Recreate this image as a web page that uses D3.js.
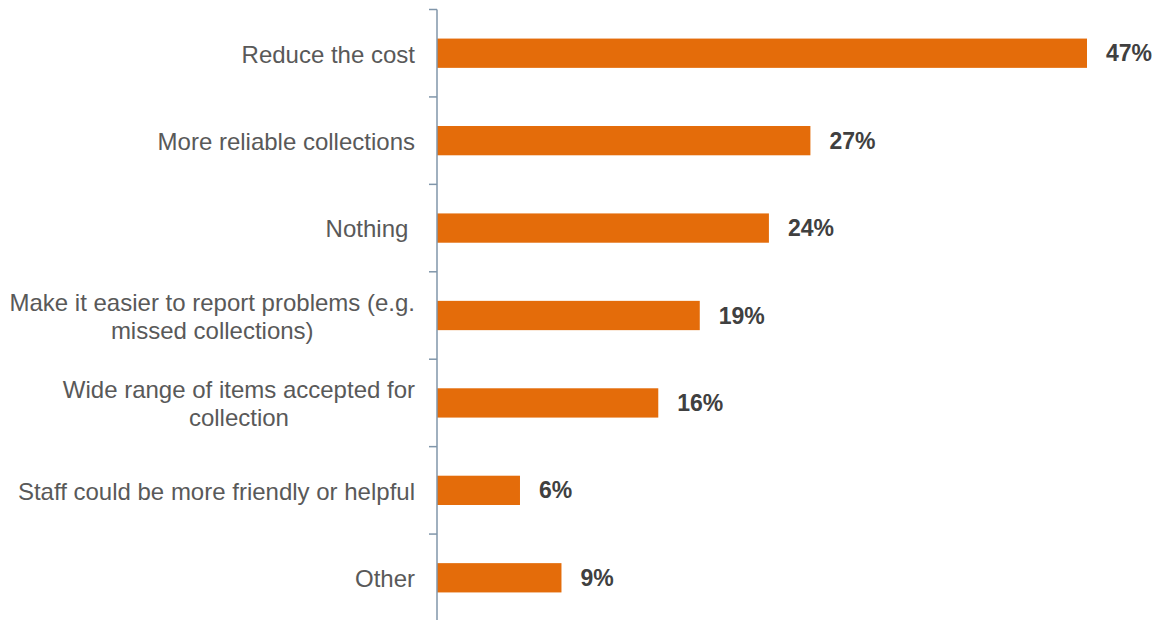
<!DOCTYPE html>
<html>
<head>
<meta charset="utf-8">
<script src="https://cdn.jsdelivr.net/npm/d3@7"></script>
<style>
  html, body { margin: 0; padding: 0; background: #fff; }
  svg { display: block; }
</style>
</head>
<body>
<svg id="chart" width="1159" height="620"></svg>
<script>
const categories = [
  ["Reduce the cost"],
  ["More reliable collections"],
  ["Nothing "],
  ["Make it easier to report problems (e.g.", "missed collections)"],
  ["Wide range of items accepted for", "collection"],
  ["Staff could be more friendly or helpful"],
  ["Other"]
];
const values = [47, 27, 24, 19, 16, 6, 9];
const valueLabels = ["47%", "27%", "24%", "19%", "16%", "6%", "9%"];

const svg = d3.select("#chart");
const font = "'Liberation Sans', Arial, sans-serif";
const axisX = 437;

const y = d3.scaleBand()
  .domain(d3.range(categories.length))
  .range([9.5, 621.5])
  .paddingInner(0.665)
  .paddingOuter(0.3325);

const yTicks = d3.scaleLinear().domain([0, categories.length]).range([9.5, 621.5]);

const x = d3.scaleLinear().domain([0, 50]).range([axisX, axisX + 650 * 50 / 47]);

// bars
svg.append("g").selectAll("rect")
  .data(values)
  .join("rect")
  .attr("x", x(0))
  .attr("y", (d, i) => y(i))
  .attr("width", d => x(d) - x(0))
  .attr("height", y.bandwidth())
  .attr("fill", "#E46C0A");

// value labels
svg.append("g").selectAll("text")
  .data(values)
  .join("text")
  .attr("x", d => x(d) + 19)
  .attr("y", (d, i) => y(i) + y.bandwidth() / 2)
  .attr("dy", "0.35em")
  .attr("font-family", font)
  .attr("font-size", 23)
  .attr("font-weight", "bold")
  .attr("fill", "#404040")
  .text((d, i) => valueLabels[i]);

// axis
const axisG = svg.append("g");
axisG.append("line")
  .attr("x1", axisX).attr("x2", axisX)
  .attr("y1", yTicks(0)).attr("y2", 620)
  .attr("stroke", "#8096AA").attr("stroke-width", 1.5);
axisG.selectAll("line.tick")
  .data(d3.range(categories.length + 1))
  .join("line")
  .attr("class", "tick")
  .attr("x1", axisX - 8).attr("x2", axisX)
  .attr("y1", d => yTicks(d)).attr("y2", d => yTicks(d))
  .attr("stroke", "#8096AA").attr("stroke-width", 1.5);

// category labels: block right-aligned, lines centred within block
const labelRight = 415;
const lineH = 28;
const labG = svg.append("g");
categories.forEach((lines, i) => {
  const cy = y(i) + y.bandwidth() / 2 + 1;
  const n = lines.length;
  const texts = lines.map((ln, j) => labG.append("text")
      .attr("font-family", font)
      .attr("font-size", 24)
      .attr("fill", "#595959")
      .style("white-space", "pre")
      .attr("y", cy + (j - (n - 1) / 2) * lineH)
      .attr("dy", "0.35em")
      .text(ln));
  if (n === 1) {
    texts[0].attr("x", labelRight).attr("text-anchor", "end");
  } else {
    const maxW = d3.max(texts, t => t.node().getComputedTextLength());
    texts.forEach(t => t.attr("x", labelRight - maxW / 2).attr("text-anchor", "middle"));
  }
});
</script>
</body>
</html>
